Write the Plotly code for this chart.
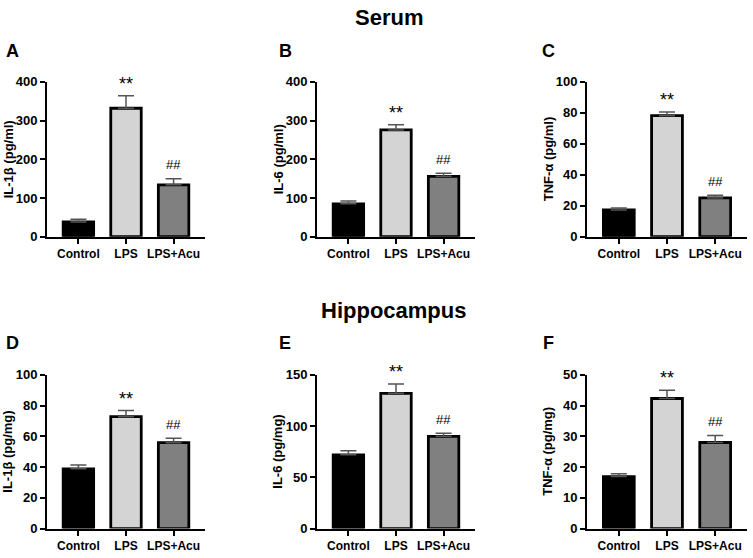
import plotly.graph_objects as go

# ---------------- data ----------------
groups = ["Control", "LPS", "LPS+Acu"]
bar_colors = ["#000000", "#d4d4d4", "#808080"]

serum_il1b = [38, 332, 134]
serum_il1b_sem = [7, 32, 16]
serum_il6 = [85, 276, 156]
serum_il6_sem = [7, 13, 8]
serum_tnf = [17.3, 78.2, 25.0]
serum_tnf_sem = [1.3, 2.4, 1.7]

hip_il1b = [38.9, 72.8, 55.9]
hip_il1b_sem = [2.5, 4.0, 2.8]
hip_il6 = [72, 132, 90]
hip_il6_sem = [4, 9, 3]
hip_tnf = [16.9, 42.3, 28.0]
hip_tnf_sem = [0.9, 2.7, 2.3]

sig_marks = ["", "**", "##"]

panels = [
    dict(letter="A", vals=serum_il1b, sem=serum_il1b_sem, ytitle="IL-1β (pg/ml)", ymax=400, dtick=100),
    dict(letter="B", vals=serum_il6, sem=serum_il6_sem, ytitle="IL-6 (pg/ml)", ymax=400, dtick=100),
    dict(letter="C", vals=serum_tnf, sem=serum_tnf_sem, ytitle="TNF-α (pg/ml)", ymax=100, dtick=20),
    dict(letter="D", vals=hip_il1b, sem=hip_il1b_sem, ytitle="IL-1β (pg/mg)", ymax=100, dtick=20),
    dict(letter="E", vals=hip_il6, sem=hip_il6_sem, ytitle="IL-6 (pg/mg)", ymax=150, dtick=50),
    dict(letter="F", vals=hip_tnf, sem=hip_tnf_sem, ytitle="TNF-α (pg/mg)", ymax=50, dtick=10),
]

# ---------------- layout geometry (window pixels) ----------------
W, H = 753, 558
col_px = [(47, 205), (317, 475), (587, 747)]
row_px = [(77, 236), (378, 536)]


def px(x):
    return x / W


def py(y):
    return 1 - y / H


FONT = "Arial, Liberation Sans, sans-serif"

fig = go.Figure()
annotations = []

for i, p in enumerate(panels):
    r, c = divmod(i, 3)
    k = i + 1
    xa = "x" if k == 1 else f"x{k}"
    ya = "y" if k == 1 else f"y{k}"
    fig.add_trace(go.Bar(
        x=groups, y=p["vals"], xaxis=xa, yaxis=ya,
        marker=dict(color=bar_colors, line=dict(color="black", width=2.8)),
        width=0.64,
        error_y=dict(type="data", array=p["sem"], arrayminus=[0, 0, 0], symmetric=False,
                     color="#555555", thickness=1.5, width=8),
        showlegend=False,
    ))
    x0, x1 = col_px[c]
    y0, y1 = row_px[r]
    axis_common = dict(showline=True, linecolor="black", linewidth=2,
                       ticks="outside", ticklen=5, tickwidth=2, tickcolor="black",
                       showgrid=False, zeroline=False)
    fig.update_layout({
        ("xaxis" if k == 1 else f"xaxis{k}"): dict(
            domain=[px(x0), px(x1)], anchor=ya, range=[-0.66, 2.66], type="category",
            tickfont=dict(family=FONT, size=12, color="black", weight="bold"), **axis_common),
        ("yaxis" if k == 1 else f"yaxis{k}"): dict(
            domain=[py(y1), py(y0)], anchor=xa, range=[0, p["ymax"]], tick0=0, dtick=p["dtick"],
            tickfont=dict(family=FONT, size=13, color="black", weight="bold"), **axis_common),
    })
    # y-axis title
    annotations.append(dict(x=px(x0 - 39), y=py((y0 + y1) / 2), xref="paper", yref="paper",
                            xanchor="center", yanchor="middle",
                            text=p["ytitle"], textangle=-90, showarrow=False,
                            font=dict(family=FONT, size=13, color="black", weight="bold")))
    # panel letter
    lx = [12, 285, 548][c]
    ly = [45, 345][r]
    annotations.append(dict(x=px(lx), y=py(ly), xref="paper", yref="paper",
                            xanchor="center", yanchor="middle",
                            text=p["letter"], showarrow=False,
                            font=dict(family=FONT, size=18, color="black", weight="bold")))
    # significance marks
    for j, m in enumerate(sig_marks):
        if m:
            big = m == "**"
            annotations.append(dict(x=groups[j], y=p["vals"][j] + p["sem"][j], xref=xa, yref=ya,
                                    text=m, showarrow=False, xanchor="center", yanchor="middle",
                                    yshift=12 if big else 14,
                                    font=dict(family=FONT, size=18 if big else 13, color="black")))

annotations.append(dict(x=px(389), y=py(11), xref="paper", yref="paper", text="Serum",
                        xanchor="center", yanchor="middle", showarrow=False,
                        font=dict(family=FONT, size=22, color="black", weight="bold")))
annotations.append(dict(x=px(393), y=py(312), xref="paper", yref="paper", text="Hippocampus",
                        xanchor="center", yanchor="middle", showarrow=False,
                        font=dict(family=FONT, size=22, color="black", weight="bold")))

fig.update_layout(width=W, height=H, margin=dict(l=0, r=0, t=0, b=0),
                  paper_bgcolor="white", plot_bgcolor="white",
                  annotations=annotations, bargap=0.3)

fig.write_html("out.html", config={"displayModeBar": False},
               post_script="document.body.style.margin='0px';")
